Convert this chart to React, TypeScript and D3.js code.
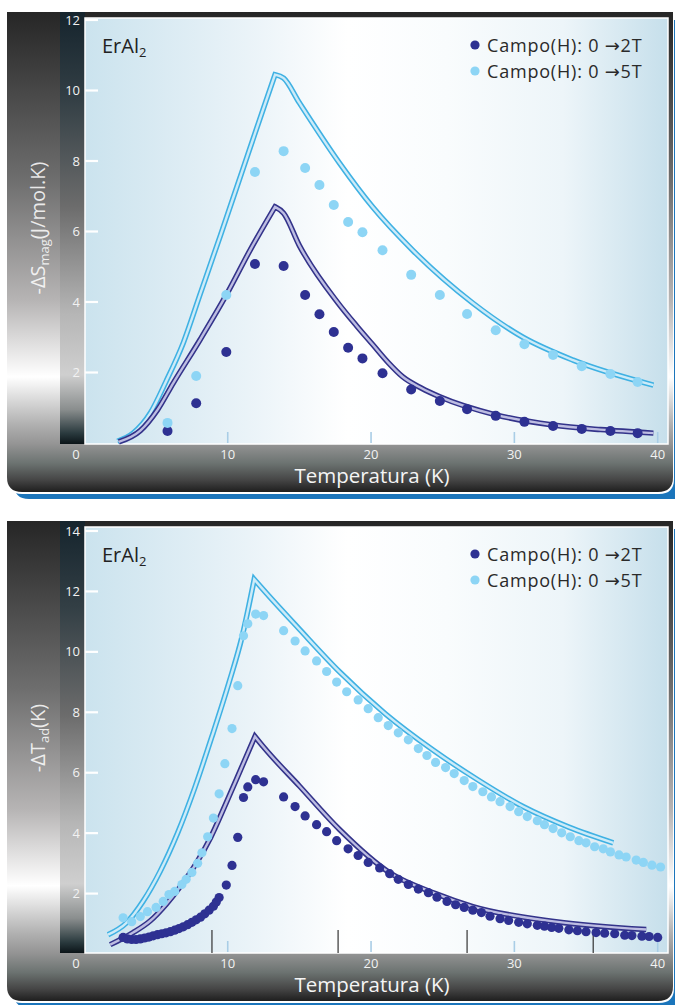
import * as d3 from "d3";

const W = 675;
const H = 1005;
const FONT = "'Open Sans', 'DejaVu Sans', sans-serif";

// ---- top panel: -ΔS_mag (J/mol.K) ----
const tempS = [5.8, 7.8, 9.9, 11.9, 13.9, 15.4, 16.4, 17.4, 18.4, 19.4, 20.8, 22.8, 24.8, 26.7, 28.7, 30.7, 32.7, 34.7, 36.7, 38.6];
const dS2T = [0.34, 1.13, 2.58, 5.08, 5.02, 4.2, 3.65, 3.15, 2.7, 2.4, 1.98, 1.52, 1.19, 0.96, 0.77, 0.6, 0.48, 0.4, 0.34, 0.28];
const dS5T = [0.57, 1.9, 4.2, 7.69, 8.28, 7.8, 7.32, 6.75, 6.27, 5.98, 5.47, 4.77, 4.2, 3.66, 3.2, 2.8, 2.5, 2.18, 1.96, 1.73];

// calculated curves [T, value], split at the peak
const fitS2TRise = [[2.4, 0.03], [3.9, 0.35], [5.1, 0.94], [6.2, 1.7], [8.1, 2.95], [9.9, 4.2], [11.6, 5.5], [13.3, 6.7]];
const fitS2TFall = [[13.3, 6.7], [13.9, 6.52], [15.0, 5.6], [17.7, 3.97], [19.0, 3.32], [20.1, 2.8], [21.2, 2.28], [22.2, 1.88], [23.5, 1.56], [24.8, 1.31], [28.7, 0.8], [32.7, 0.51], [36.0, 0.38], [39.7, 0.28]];
const fitS5TRise = [[2.3, 0.05], [3.4, 0.28], [4.6, 0.85], [5.7, 1.75], [6.9, 2.84], [8.1, 4.25], [9.5, 5.9], [11.0, 7.7], [12.5, 9.5], [13.3, 10.45]];
const fitS5TFall = [[13.3, 10.45], [13.9, 10.35], [15.0, 9.65], [17.8, 7.94], [20.1, 6.7], [22.9, 5.47], [27.1, 3.97], [30.6, 3.0], [34.1, 2.35], [39.7, 1.64]];

// ---- bottom panel: -ΔT_ad (K) ----
const tempT2T = [2.7, 3.0, 3.3, 3.6, 3.9, 4.2, 4.5, 4.8, 5.1, 5.4, 5.7, 6.0, 6.3, 6.6, 6.9, 7.2, 7.5, 7.8, 8.1, 8.4, 8.7, 9.0, 9.2, 9.4,
  9.9, 10.3, 10.7, 11.1, 11.4, 11.95, 12.5, 13.9, 14.7, 15.4, 16.2, 16.9, 17.6, 18.4, 19.1, 19.8, 20.6, 21.3, 21.9, 22.6, 23.3,
  24.0, 24.6, 25.3, 25.9, 26.5, 27.1, 27.7, 28.3, 29.0, 29.6, 30.3, 30.9, 31.6, 32.1, 32.6, 33.1, 33.8, 34.4, 35.0, 35.7, 36.3,
  37.0, 37.7, 38.2, 38.9, 39.4, 40.0];
const dT2T = [0.55, 0.5, 0.48, 0.48, 0.5, 0.53, 0.56, 0.6, 0.64, 0.67, 0.7, 0.74, 0.79, 0.84, 0.9, 0.97, 1.05, 1.13, 1.22, 1.33, 1.45, 1.58, 1.72, 1.87,
  2.28, 2.93, 3.86, 5.18, 5.53, 5.77, 5.7, 5.2, 4.88, 4.57, 4.28, 4.05, 3.75, 3.48, 3.26, 3.03, 2.85, 2.66, 2.47, 2.3, 2.15,
  2.03, 1.88, 1.74, 1.63, 1.54, 1.45, 1.37, 1.25, 1.17, 1.11, 1.05, 1.0, 0.95, 0.92, 0.88, 0.85, 0.8, 0.77, 0.74, 0.71, 0.69,
  0.67, 0.62, 0.61, 0.59, 0.58, 0.55];
const tempT5T = [2.7, 3.3, 3.9, 4.4, 5.0, 5.5, 5.9, 6.3, 6.8, 7.1, 7.5, 7.9, 8.2, 8.6, 9.0, 9.4, 9.8, 10.3, 10.7, 11.1, 11.4, 11.95, 12.5,
  13.9, 14.7, 15.4, 16.2, 16.9, 17.6, 18.3, 19.1, 19.8, 20.5, 21.2, 21.9, 22.6, 23.3, 23.9, 24.5, 25.2, 25.8, 26.5, 27.1, 27.8,
  28.4, 29.0, 29.7, 30.3, 30.9, 31.6, 32.1, 32.7, 33.3, 33.9, 34.5, 35.0, 35.6, 36.2, 36.7, 37.3, 37.8, 38.5, 39.0, 39.6, 40.2];
const dT5T = [1.2, 1.07, 1.24, 1.4, 1.54, 1.74, 1.97, 2.07, 2.3, 2.47, 2.7, 3.0, 3.35, 3.88, 4.5, 5.3, 6.3, 7.46, 8.88, 10.53, 10.93, 11.25, 11.2,
  10.7, 10.36, 10.03, 9.7, 9.35, 9.0, 8.68, 8.41, 8.12, 7.82, 7.56, 7.32, 7.09, 6.8, 6.57, 6.34, 6.17, 5.97, 5.74, 5.54, 5.37,
  5.2, 5.04, 4.88, 4.71, 4.55, 4.41, 4.28, 4.15, 4.01, 3.88, 3.75, 3.68, 3.55, 3.48, 3.38, 3.28, 3.21, 3.11, 3.03, 2.94, 2.88];

const fitT2TRise = [[1.8, 0.31], [3.4, 0.71], [4.6, 1.1], [5.7, 1.64], [6.8, 2.3], [7.8, 3.0], [8.8, 3.85], [9.8, 4.9], [10.9, 6.1], [11.9, 7.2]];
const fitT2TFall = [[11.9, 7.2], [12.5, 6.85], [15.0, 5.56], [17.8, 4.12], [21.3, 2.69], [24.5, 2.0], [27.1, 1.57], [32.9, 1.07], [39.2, 0.81]];
const fitT5TRise = [[1.65, 0.64], [2.95, 1.04], [4.1, 1.75], [5.3, 2.75], [6.5, 4.0], [7.7, 5.5], [8.9, 7.2], [10.1, 9.0], [11.0, 10.5], [11.85, 12.4]];
const fitT5TFall = [[11.85, 12.4], [12.4, 12.1], [15.0, 10.75], [17.8, 9.34], [21.0, 7.95], [24.3, 6.76], [27.5, 5.75], [30.6, 4.88], [33.8, 4.2], [36.9, 3.68]];

const xTicks = [10, 20, 30, 40];
const yTicksS = [2, 4, 6, 8, 10, 12];
const yTicksT = [2, 4, 6, 8, 10, 12, 14];
const markT = [8.9, 17.7, 26.7, 35.5]; // stray dark ticks on the lower plot
const legendLabels = ["Campo(H): 0 →2T", "Campo(H): 0 →5T"];

const DARK = "#2e3192";
const LIGHT = "#8dd5f5";

const Panel = ({ id, top, yMax, yRange, yTicks, d2, d5, t2, t5, fit2, fit5, titleMain, titleSub, titleEnd, titleY, marks }) => {
  const plotTop = top + 6;
  const plotBottom = top + 432;
  const frameBottom = top + 480;
  const x = d3.scaleLinear().domain([0, 40]).range([84.4, 657.7]);
  const y = d3.scaleLinear().domain([0, yMax]).range(yRange);

  const line = d3.line<number[]>().x(d => x(d[0])).y(d => y(d[1])).curve(d3.curveMonotoneX);
  const fitPath = (rise, fall) => line(rise) + (line(fall) as string).replace(/^M/, "L");

  const r = 15;
  const frame = `M7,${top}H673V${frameBottom - r}Q673,${frameBottom} ${673 - r},${frameBottom}H${7 + r}Q7,${frameBottom} 7,${frameBottom - r}Z`;
  const under = `M14,${top + 8}H690V${frameBottom + 7}H${14 + r}Q14,${frameBottom + 7} 14,${frameBottom + 7 - r}Z`;
  const white = `M7,${top}H674V${frameBottom + 2 - r}Q674,${frameBottom + 2} ${674 - r},${frameBottom + 2}H${7 + r}Q7,${frameBottom + 2} 7,${frameBottom + 2 - r}Z`;

  const p5 = fitPath(fit5[0], fit5[1]);
  const p2 = fitPath(fit2[0], fit2[1]);
  const dotR = id === "s" ? 5 : 4.6;

  return (
    <g>
      <defs>
        <linearGradient id={`${id}-frame`} x1="0" y1={top} x2="0" y2={frameBottom} gradientUnits="userSpaceOnUse">
          <stop offset="0" stopColor="#262626" />
          <stop offset="0.1" stopColor="#3a3a3a" />
          <stop offset="0.35" stopColor="#6e6e6e" />
          <stop offset="0.6" stopColor="#b6b4b4" />
          <stop offset="0.76" stopColor="#ffffff" />
          <stop offset="0.86" stopColor="#b0b0b0" />
          <stop offset="0.9" stopColor="#949494" />
          <stop offset="0.94" stopColor="#6c7371" />
          <stop offset="0.975" stopColor="#454545" />
          <stop offset="1" stopColor="#1e1e1e" />
        </linearGradient>
        <linearGradient id={`${id}-col`} x1="0" y1={top} x2="0" y2={plotBottom} gradientUnits="userSpaceOnUse">
          <stop offset="0" stopColor="#15242d" />
          <stop offset="0.2" stopColor="#333f45" />
          <stop offset="0.45" stopColor="#6c6c6c" />
          <stop offset="0.7" stopColor="#b6b6b6" />
          <stop offset="0.84" stopColor="#cfcfcf" />
          <stop offset="0.92" stopColor="#8a8e8e" />
          <stop offset="0.975" stopColor="#2a3a3e" />
          <stop offset="1" stopColor="#0b1418" />
        </linearGradient>
        <linearGradient id={`${id}-bg`} x1="0" y1="0" x2="1" y2="0">
          <stop offset="0" stopColor="#cbe3ee" />
          <stop offset="0.28" stopColor="#eaf3f8" />
          <stop offset="0.45" stopColor="#ffffff" />
          <stop offset="0.62" stopColor="#f9fcfd" />
          <stop offset="0.82" stopColor="#edf5f9" />
          <stop offset="1" stopColor="#c6dfeb" />
        </linearGradient>
      </defs>

      <path d={under} fill="#1b75bb" />
      <path d={white} fill="#ffffff" />
      <path d={frame} fill={`url(#${id}-frame)`} />
      <rect x={60} y={top} width={25} height={plotBottom - top} fill={`url(#${id}-col)`} />
      <rect x={85} y={plotTop} width={583} height={plotBottom - plotTop} fill={`url(#${id}-bg)`} stroke="#ffffff" strokeWidth={1.5} />

      {/* x ticks */}
      {xTicks.map(t => (
        <line key={t} x1={x(t)} x2={x(t)} y1={plotBottom - 12} y2={plotBottom - 1} stroke="#a9cde6" strokeWidth={1.6} />
      ))}
      {marks.map(t => (
        <line key={t} x1={x(t)} x2={x(t)} y1={plotBottom - 23} y2={plotBottom} stroke="#333" strokeWidth={1.2} />
      ))}
      {/* y ticks */}
      {yTicks.map(t => (
        <line key={t} x1={85} x2={98} y1={y(t)} y2={y(t)} stroke="#ffffff" strokeWidth={2.2} />
      ))}

      {/* calculated curves: tube look */}
      <path d={p5} fill="none" stroke="#3fb1e3" strokeWidth={5.5} />
      <path d={p5} fill="none" stroke="#cdebf8" strokeWidth={2.4} />
      <path d={p2} fill="none" stroke="#33338a" strokeWidth={5.5} />
      <path d={p2} fill="none" stroke="#bdbde2" strokeWidth={2.4} />

      {t2.map((t, i) => (
        <circle key={`d${i}`} cx={x(t)} cy={y(d2[i])} r={dotR} fill={DARK} />
      ))}
      {t5.map((t, i) => (
        <circle key={`l${i}`} cx={x(t)} cy={y(d5[i])} r={dotR} fill={LIGHT} />
      ))}

      {/* tick labels */}
      <g fontFamily={FONT} fontSize={13} fill="#f2f2f2">
        {yTicks.map(t => (
          <text key={t} x={80} y={y(t) + 4.5} textAnchor="end">{t}</text>
        ))}
        <text x={76} y={plotBottom + 15} textAnchor="middle">0</text>
        {xTicks.map(t => (
          <text key={t} x={x(t)} y={plotBottom + 15} textAnchor="middle">{t}</text>
        ))}
      </g>
      <text x={372} y={plotBottom + 39} textAnchor="middle" fontFamily={FONT} fontSize={20.5} fill="#f5f5f5">Temperatura (K)</text>

      {/* y title */}
      <text transform={`translate(45,${titleY}) rotate(-90)`} textAnchor="middle" fontFamily={FONT} fontSize={20} fill="#ffffff" fillOpacity={0.85}>
        {titleMain}
        <tspan fontSize={13} dy={4}>{titleSub}</tspan>
        <tspan dy={-4}>{titleEnd}</tspan>
      </text>

      {/* sample name */}
      <text x={102} y={top + 41} fontFamily={FONT} fontSize={20} fill="#222">
        ErAl<tspan fontSize={13} dy={4}>2</tspan>
      </text>

      {/* legend */}
      {legendLabels.map((lab, i) => (
        <g key={lab}>
          <circle cx={475} cy={top + 33 + i * 26} r={4.6} fill={i === 0 ? DARK : LIGHT} />
          <text x={487} y={top + 40 + i * 26} fontFamily={FONT} fontSize={18} letterSpacing={0.8} fill="#2a2a2a">{lab}</text>
        </g>
      ))}
    </g>
  );
};

export default function App() {
  return (
    <svg width={W} height={H} style={{ position: "absolute", left: 0, top: 0, background: "#ffffff" }}>
      <Panel id="s" top={12} yMax={12} yRange={[443, 20]} yTicks={yTicksS}
        d2={dS2T} d5={dS5T} t2={tempS} t5={tempS}
        fit2={[fitS2TRise, fitS2TFall]} fit5={[fitS5TRise, fitS5TFall]}
        titleMain="-ΔS" titleSub="mag" titleEnd="(J/mol.K)" titleY={228} marks={[]} />
      <Panel id="t" top={521} yMax={14} yRange={[954, 531]} yTicks={yTicksT}
        d2={dT2T} d5={dT5T} t2={tempT2T} t5={tempT5T}
        fit2={[fitT2TRise, fitT2TFall]} fit5={[fitT5TRise, fitT5TFall]}
        titleMain="-ΔT" titleSub="ad" titleEnd="(K)" titleY={738} marks={markT} />
    </svg>
  );
}
